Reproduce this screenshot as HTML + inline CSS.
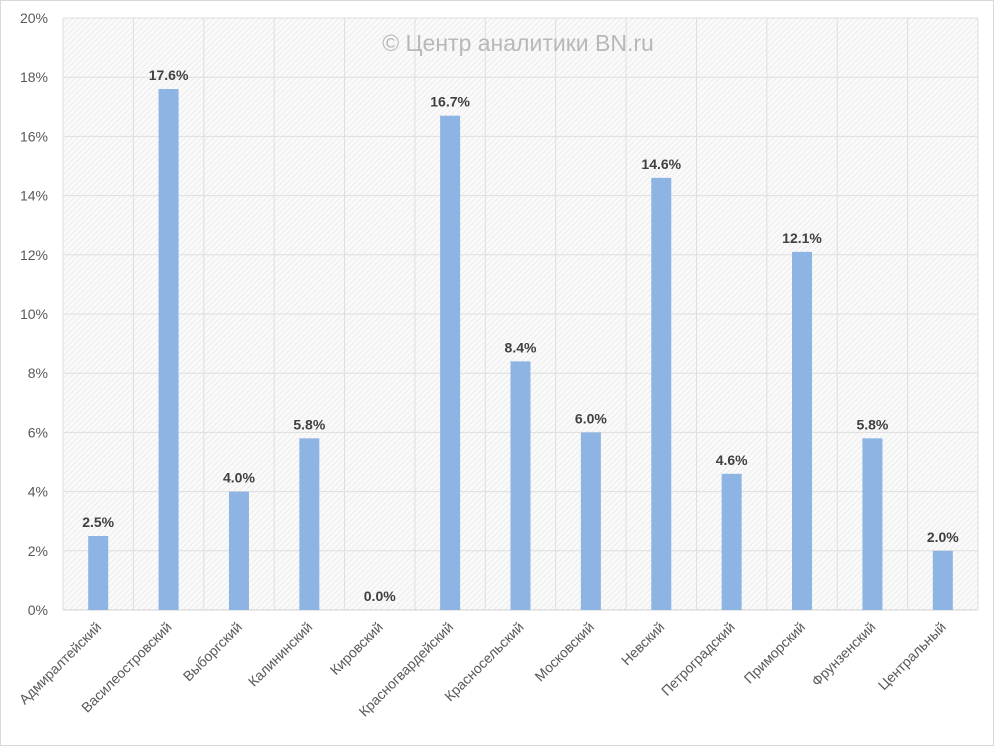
<!DOCTYPE html>
<html><head><meta charset="utf-8"><style>
body{margin:0;background:#fff;width:994px;height:746px;overflow:hidden}
svg{font-family:"Liberation Sans","DejaVu Sans",sans-serif}
</style></head><body>
<svg id="chart" width="994" height="746">
<defs><pattern id="hatch" width="4" height="4" patternUnits="userSpaceOnUse" patternTransform="rotate(45)"><rect width="4" height="4" fill="#fafafa"/><line x1="0" y1="0" x2="0" y2="4" stroke="#e4e4e4" stroke-width="1.2"/></pattern></defs>
<rect x="0.5" y="0.5" width="993" height="745" fill="#fff" stroke="#d9d9d9"/>
<rect x="63" y="18" width="915" height="592" fill="url(#hatch)"/>
<g id="grid"></g><g id="bars"></g><g id="labels"></g>
<text x="518" y="51" text-anchor="middle" font-size="23" fill="#b8b8b8">© Центр аналитики BN.ru</text>
</svg>
<script>
const categories=["Адмиралтейский","Василеостровский","Выборгский","Калининский","Кировский","Красногвардейский","Красносельский","Московский","Невский","Петроградский","Приморский","Фрунзенский","Центральный"];
const values=[2.5,17.6,4.0,5.8,0.0,16.7,8.4,6.0,14.6,4.6,12.1,5.8,2.0];
const ticks=[0,2,4,6,8,10,12,14,16,18,20];
const L=63,R=978,T=18,B=610,maxV=20;
const step=(R-L)/categories.length;
const y=v=>B-(v/maxV)*(B-T);
const x=i=>L+step*(i+0.5);
const NS="http://www.w3.org/2000/svg";
function mk(t,a,p){const e=document.createElementNS(NS,t);for(const k in a)e.setAttribute(k,a[k]);p.appendChild(e);return e;}
const g=document.getElementById('grid'),bg=document.getElementById('bars'),lg=document.getElementById('labels');
ticks.forEach(t=>{
 const l=mk('line',{x1:L,x2:R,y1:y(t),y2:y(t),stroke:t===0?'#d0d0d0':'#dedede'},g);
 
 
 const tx=mk('text',{x:L-15,y:y(t)+5,'text-anchor':'end','font-size':14,fill:'#595959'},g);
 tx.textContent=t+'%';
 
 
});
for(let i=0;i<=categories.length;i++){
 const l=mk('line',{x1:L+step*i,x2:L+step*i,y1:T,y2:B,stroke:'#dedede'},g);
 
 
}
categories.forEach((c,i)=>{
 const v=values[i],cx=x(i),w=20;
 const r=mk('rect',{x:cx-w/2,y:y(v),width:w,height:B-y(v),fill:'#8eb4e3'},bg);
 
 
 const t=mk('text',{x:cx,y:y(v)-9,'text-anchor':'middle','font-size':14,'font-weight':'bold',fill:'#404040'},lg);
 t.textContent=v.toFixed(1)+'%';
 
 
 const cl=mk('text',{x:cx+4,y:628,'text-anchor':'end','font-size':14,fill:'#595959',transform:`rotate(-45 ${cx+4} 628)`},lg);
 cl.textContent=c;
 
 
});
</script>
</body></html>
